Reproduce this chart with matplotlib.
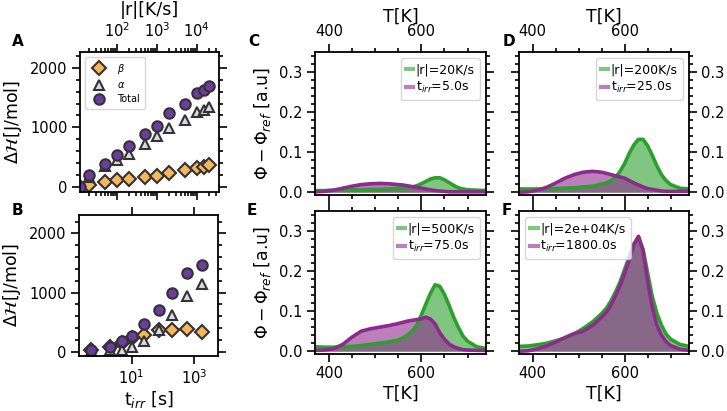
import numpy as np
import matplotlib
matplotlib.use("Agg")
import matplotlib.pyplot as plt
from matplotlib.lines import Line2D
from matplotlib.ticker import AutoMinorLocator, LogLocator, NullLocator, FixedLocator

# ---- panel A: enthalpy vs cooling rate ----
rate = [12, 20, 50, 100, 200, 500, 1000, 2000, 5000, 10000, 15000, 20000]
A_beta = [0, 29, 84, 113, 141, 168, 185, 235, 281, 326, 336, 365]
A_alpha = [0, 160, 348, 449, 545, 729, 852, 981, 1121, 1261, 1289, 1345]
A_total = [0, 197, 393, 533, 684, 886, 1025, 1233, 1384, 1570, 1625, 1692]

# ---- panel B: enthalpy vs irradiation time ----
t_irr = [0.5, 2, 5, 10, 25, 75, 200, 600, 1800]
B_beta = [29, 84, 142, 226, 282, 367, 367, 383, 338]
B_alpha = [5, 29, 29, 84, 186, 367, 620, 946, 1144]
B_total = [29, 84, 186, 270, 463, 704, 986, 1324, 1465]

# ---- panels C-F: structure difference curves ----
T = [370, 390, 410, 430, 450, 470, 490, 510, 530, 550, 560, 570, 580, 590,
     600, 610, 620, 630, 640, 650, 660, 670, 680, 690, 700, 720, 740]

C_rate = [0.004, 0.004, 0.005, 0.005, 0.006, 0.006, 0.007, 0.007, 0.008, 0.009, 0.010, 0.011, 0.013, 0.016,
          0.021, 0.027, 0.033, 0.036, 0.036, 0.031, 0.024, 0.017, 0.011, 0.008, 0.006, 0.005, 0.004]
C_irr = [0.001, 0.002, 0.005, 0.010, 0.015, 0.019, 0.021, 0.022, 0.021, 0.019, 0.018, 0.016, 0.014, 0.012,
         0.010, 0.008, 0.006, 0.004, 0.003, 0.002, 0.001, 0.001, 0.001, 0.001, 0.001, 0.001, 0.001]
D_rate = [0.008, 0.008, 0.008, 0.008, 0.009, 0.010, 0.011, 0.013, 0.015, 0.020, 0.023, 0.029, 0.037, 0.052,
          0.072, 0.097, 0.118, 0.132, 0.132, 0.116, 0.092, 0.066, 0.044, 0.029, 0.019, 0.010, 0.008]
D_irr = [0.000, 0.001, 0.005, 0.012, 0.023, 0.035, 0.044, 0.050, 0.052, 0.050, 0.047, 0.044, 0.041, 0.038,
         0.035, 0.029, 0.023, 0.018, 0.013, 0.009, 0.007, 0.005, 0.003, 0.002, 0.002, 0.002, 0.002]
E_rate = [0.011, 0.010, 0.010, 0.011, 0.012, 0.014, 0.017, 0.020, 0.023, 0.028, 0.033, 0.040, 0.050, 0.064,
          0.090, 0.118, 0.145, 0.166, 0.162, 0.142, 0.115, 0.085, 0.060, 0.038, 0.025, 0.011, 0.007]
E_irr = [0.002, 0.003, 0.006, 0.017, 0.035, 0.050, 0.056, 0.060, 0.064, 0.069, 0.072, 0.075, 0.077, 0.079,
         0.081, 0.085, 0.080, 0.068, 0.046, 0.030, 0.018, 0.011, 0.007, 0.004, 0.003, 0.002, 0.002]
F_rate = [0.012, 0.013, 0.016, 0.020, 0.026, 0.033, 0.043, 0.057, 0.073, 0.094, 0.107, 0.125, 0.148, 0.173,
          0.205, 0.236, 0.268, 0.285, 0.255, 0.195, 0.137, 0.095, 0.065, 0.043, 0.030, 0.017, 0.012]
F_irr = [0.000, 0.001, 0.006, 0.013, 0.023, 0.034, 0.044, 0.050, 0.064, 0.085, 0.097, 0.115, 0.138, 0.163,
         0.195, 0.228, 0.265, 0.287, 0.250, 0.175, 0.110, 0.065, 0.040, 0.024, 0.014, 0.005, 0.002]

rate_labels = ["|r|=20K/s", "|r|=200K/s", "|r|=500K/s", "|r|=2e+04K/s"]
irr_labels = [r"t$_{irr}$=5.0s", r"t$_{irr}$=25.0s", r"t$_{irr}$=75.0s", r"t$_{irr}$=1800.0s"]

GREEN = "#2ca02c"
PURPLE = "#8e2a8e"
ORANGE = "#f7b55c"
LAVENDER = "#d9d9e8"
VIOLET = "#6c3d9e"
EDGE = "#333333"

plt.rcParams["font.size"] = 10.5
plt.rcParams["axes.linewidth"] = 1.3

W, H = 727, 411
fig = plt.figure(figsize=(7.27, 4.11), dpi=100)


def box(l, t, r, b):
    return [l / W, 1 - b / H, (r - l) / W, (b - t) / H]


def style_ticks(ax):
    ax.tick_params(which="both", direction="out", top=True, right=True, width=1.2, labelsize=10.5)
    ax.tick_params(which="major", length=5.5)
    ax.tick_params(which="minor", length=3)


# ---------- A ----------
axA = fig.add_axes(box(80, 52, 219, 192))
mk = dict(ls="none", mec=EDGE, mew=1.5, ms=7.5)
axA.plot(rate, A_beta, marker="D", mfc=ORANGE, label=r"$\beta$", **dict(mk, ms=7))
axA.plot(rate, A_alpha, marker="^", mfc=LAVENDER, label=r"$\alpha$", **mk)
axA.plot(rate, A_total, marker="o", mfc=VIOLET, label="Total", **mk)
axA.set_xscale("log")
axA.set_xlim(12, 36000)
axA.set_ylim(-84, 2264)
axA.xaxis.set_major_locator(FixedLocator([100, 1000, 10000]))
axA.xaxis.set_minor_locator(LogLocator(base=10, subs=np.arange(2, 10), numticks=20))
axA.yaxis.set_minor_locator(AutoMinorLocator(5))
style_ticks(axA)
axA.tick_params(axis="x", labelbottom=False, labeltop=True)
axA.xaxis.set_label_position("top")
axA.set_xlabel("|r|[K/s]", fontsize=12.5)
axA.set_ylabel(r"$\Delta\mathcal{H}$[J/mol]", fontsize=12.5)
axA.legend(loc="upper left", fontsize=7, handletextpad=0.8, borderpad=0.5, labelspacing=0.45)

# ---------- B ----------
axB = fig.add_axes(box(79, 215, 218, 356))
axB.plot(t_irr, B_beta, marker="D", mfc=ORANGE, **dict(mk, ms=7))
axB.plot(t_irr, B_alpha, marker="^", mfc=LAVENDER, **mk)
axB.plot(t_irr, B_total, marker="o", mfc=VIOLET, **mk)
axB.set_xscale("log")
axB.set_xlim(0.21, 5800)
axB.set_ylim(-73, 2310)
axB.xaxis.set_major_locator(FixedLocator([10, 1000]))
axB.xaxis.set_minor_locator(NullLocator())
axB.xaxis.set_major_formatter(matplotlib.ticker.LogFormatterSciNotation())
axB.yaxis.set_minor_locator(AutoMinorLocator(5))
style_ticks(axB)
axB.set_xlabel(r"t$_{irr}$ [s]", fontsize=12.5, labelpad=1)
axB.set_ylabel(r"$\Delta\mathcal{H}$[J/mol]", fontsize=12.5)

# ---------- C-F ----------
curves = [(C_rate, C_irr), (D_rate, D_irr), (E_rate, E_irr), (F_rate, F_irr)]
boxes = [box(315, 52, 486, 195), box(519, 52, 689, 195),
         box(315, 211, 486, 354), box(519, 211, 689, 354)]
for i, ((g, p), b) in enumerate(zip(curves, boxes)):
    ax = fig.add_axes(b)
    ax.fill_between(T, g, 0, color=GREEN, alpha=0.6, lw=0)
    ax.plot(T, g, color=GREEN, lw=2.6)
    ax.fill_between(T, p, 0, color=PURPLE, alpha=0.6, lw=0)
    ax.plot(T, p, color=PURPLE, lw=2.6)
    ax.set_xlim(370, 740)
    ax.set_ylim(-0.007, 0.35)
    ax.set_xticks([400, 600])
    ax.set_yticks([0.0, 0.1, 0.2, 0.3])
    ax.xaxis.set_minor_locator(AutoMinorLocator(4))
    ax.yaxis.set_minor_locator(AutoMinorLocator(5))
    style_ticks(ax)
    top = i < 2
    right = i % 2 == 1
    ax.tick_params(axis="x", labeltop=top, labelbottom=not top)
    ax.tick_params(axis="y", labelright=right, labelleft=not right)
    if top:
        ax.xaxis.set_label_position("top")
    ax.set_xlabel("T[K]", fontsize=12.5, labelpad=2)
    if not right:
        ax.set_ylabel(r"$\Phi - \Phi_{ref}$ [a.u]", fontsize=12.5)
    handles = [Line2D([], [], color=GREEN, alpha=0.6, lw=3),
               Line2D([], [], color=PURPLE, alpha=0.6, lw=3)]
    ax.legend(handles, [rate_labels[i], irr_labels[i]],
              loc="upper left" if i == 3 else "upper right", fontsize=9,
              handlelength=0.6, handletextpad=0.2, borderpad=0.4, labelspacing=0.3)

for lab, x, y in [("A", 12, 42), ("B", 12, 210), ("C", 248, 42),
                  ("D", 503, 42), ("E", 247, 210), ("F", 502, 210)]:
    fig.text(x / W, 1 - y / H, lab, fontsize=11, fontweight="bold", ha="left", va="center")

fig.savefig("out.png", dpi=100)
